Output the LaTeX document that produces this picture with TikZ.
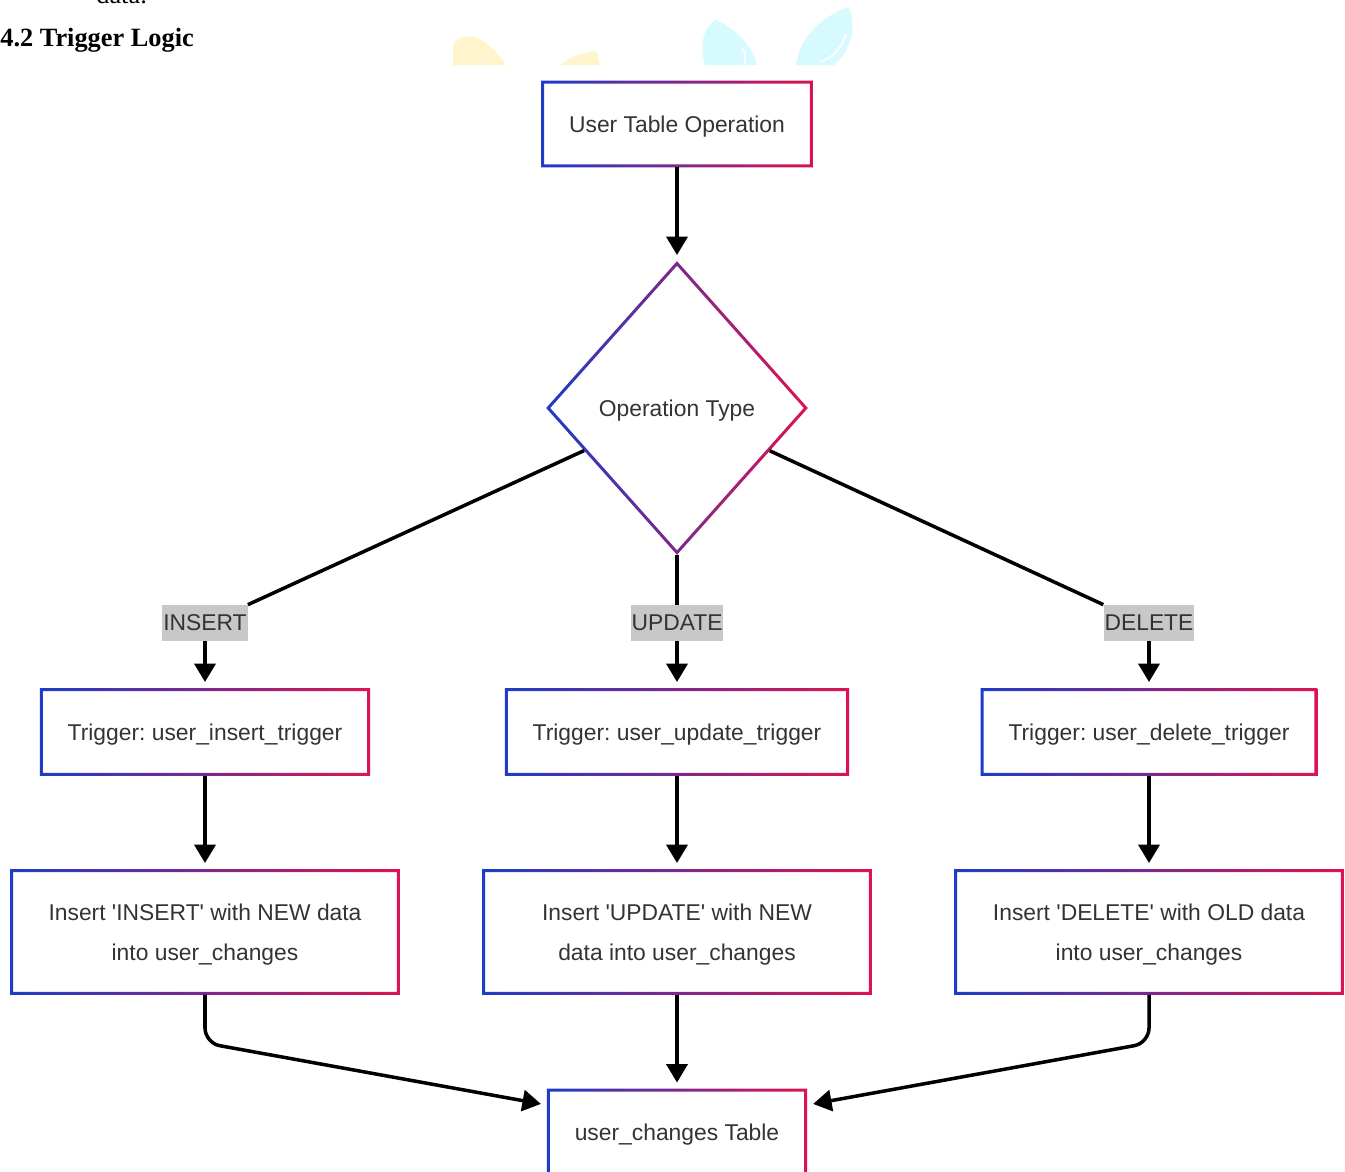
\documentclass[tikz,border=0pt]{standalone}
\usepackage{fontspec}
\newfontfamily\boxfont{Liberation Sans}
\newfontfamily\headfont{Liberation Serif}
\usetikzlibrary{shapes.geometric,arrows.meta}
\definecolor{Cgradblue}{HTML}{1E3CC8}
\definecolor{Cgradred}{HTML}{DC1450}
\definecolor{Ctxtgray}{HTML}{333333}
\definecolor{Clblgray}{HTML}{C8C8C8}
\definecolor{Cleafyel}{HTML}{FFF4CC}
\definecolor{Cleafcyan}{HTML}{D6FAFD}
\newcommand{\gradframe}[1]{%
	\shade[even odd rule,left color=Cgradblue,right color=Cgradred]
	(#1.south west) rectangle (#1.north east)
	([shift={(0.06cm,0.06cm)}]#1.south west) rectangle ([shift={(-0.06cm,-0.06cm)}]#1.north east);}
\frenchspacing

\begin{document}
\begin{tikzpicture}[x=0.02cm,y=-0.02cm,
		box/.style={rectangle,inner xsep=0.55cm,inner ysep=0pt,minimum height=1.74cm,text depth=0pt,
			text=Ctxtgray,font=\boxfont\fontsize{13}{22.7}\selectfont,align=center},
		widebox/.style={box,minimum width=7.78cm,minimum height=2.5cm},
		edgelbl/.style={fill=Clblgray,text=Ctxtgray,inner xsep=0.5pt,inner ysep=0pt,
			minimum height=0.72cm,font=\boxfont\fontsize{13}{16}\selectfont},
		flow/.style={line width=2pt,-{Triangle[width=12pt,length=10.5pt]},shorten >=3.5pt},
		link/.style={line width=2pt}]
	\useasboundingbox (0,0) rectangle (1345,1171);

	\begin{scope}
		\clip (440,0) rectangle (870,65);
		\fill[Cleafyel] (453,65) -- (453,46) .. controls (455,37) and (468,34) .. (478,38)
			.. controls (490,45) and (500,55) .. (506,65) -- cycle;
		\fill[Cleafyel] (560,65) .. controls (568,58) and (580,53) .. (596,51)
			.. controls (598,56) and (599,60) .. (600,65) -- cycle;
		\fill[Cleafcyan] (705,65) .. controls (699,45) and (704,25) .. (716,20)
			.. controls (735,28) and (752,45) .. (757,65) -- cycle;
		\fill[Cleafcyan] (796,65) .. controls (800,40) and (815,20) .. (848,7)
			.. controls (857,25) and (852,50) .. (834,65) -- cycle;
		\draw[white,line width=1pt] (846,34) .. controls (842,48) and (832,58) .. (820,62);
		\draw[white,line width=1pt] (742,48) .. controls (746,54) and (746,60) .. (744,65);
	\end{scope}

	\node[anchor=base west,inner sep=0pt,font=\headfont\fontsize{15}{18}\selectfont] (prev) at (96,3) {data.};
	\node[anchor=base west,inner sep=0pt,font=\headfont\bfseries\fontsize{15}{18}\selectfont] (head) at (0,46) {4.2 Trigger Logic};

	\node[box,minimum height=1.72cm] (op) at (677,124) {User Table Operation};
	\node[diamond,minimum width=5.22cm,minimum height=5.86cm,inner sep=0pt,text depth=0pt,
		text=Ctxtgray,font=\boxfont\fontsize{13}{16}\selectfont] (dia) at (677,408) {Operation Type};

	\node[edgelbl] (lblI) at (205,623) {INSERT};
	\node[edgelbl] (lblU) at (677,623) {UPDATE};
	\node[edgelbl] (lblD) at (1149,623) {DELETE};

	\node[box] (trgI) at (205,732) {Trigger: user\_insert\_trigger};
	\node[box] (trgU) at (677,732) {Trigger: user\_update\_trigger};
	\node[box] (trgD) at (1149,732) {Trigger: user\_delete\_trigger};

	\node[widebox] (insI) at (205,932) {Insert 'INSERT' with NEW data\\into user\_changes};
	\node[widebox] (insU) at (677,932) {Insert 'UPDATE' with NEW\\data into user\_changes};
	\node[widebox] (insD) at (1149,932) {Insert 'DELETE' with OLD data\\into user\_changes};

	\node[box,minimum height=1.72cm] (fin) at (677,1132) {user\_changes Table};

	\gradframe{op}
	\gradframe{trgI}
	\gradframe{trgU}
	\gradframe{trgD}
	\gradframe{insI}
	\gradframe{insU}
	\gradframe{insD}
	\gradframe{fin}
	\shade[even odd rule,left color=Cgradblue,right color=Cgradred]
		(dia.north) -- (dia.east) -- (dia.south) -- (dia.west) -- cycle
		([yshift=-0.09cm]dia.north) -- ([xshift=-0.08cm]dia.east) -- ([yshift=0.09cm]dia.south) -- ([xshift=0.08cm]dia.west) -- cycle;

	\coordinate (bendI) at (205,1043);
	\coordinate (bendD) at (1149,1043);

	\draw[flow] (op.south) -- (dia.north);
	\draw[link] (dia) -- (lblI.north east);
	\draw[link] (dia.south) -- (lblU.north);
	\draw[link] (dia) -- (lblD.north west);
	\draw[flow] (lblI) -- (trgI);
	\draw[flow] (lblU) -- (trgU);
	\draw[flow] (lblD) -- (trgD);
	\draw[flow] (trgI) -- (insI);
	\draw[flow] (trgU) -- (insU);
	\draw[flow] (trgD) -- (insD);
	\draw[flow,rounded corners=0.3cm] (insI.south) -- (bendI) -- ([yshift=0.54cm]fin.west);
	\draw[flow] (insU) -- (fin);
	\draw[flow,rounded corners=0.3cm] (insD.south) -- (bendD) -- ([yshift=0.54cm]fin.east);
\end{tikzpicture}
\end{document}
